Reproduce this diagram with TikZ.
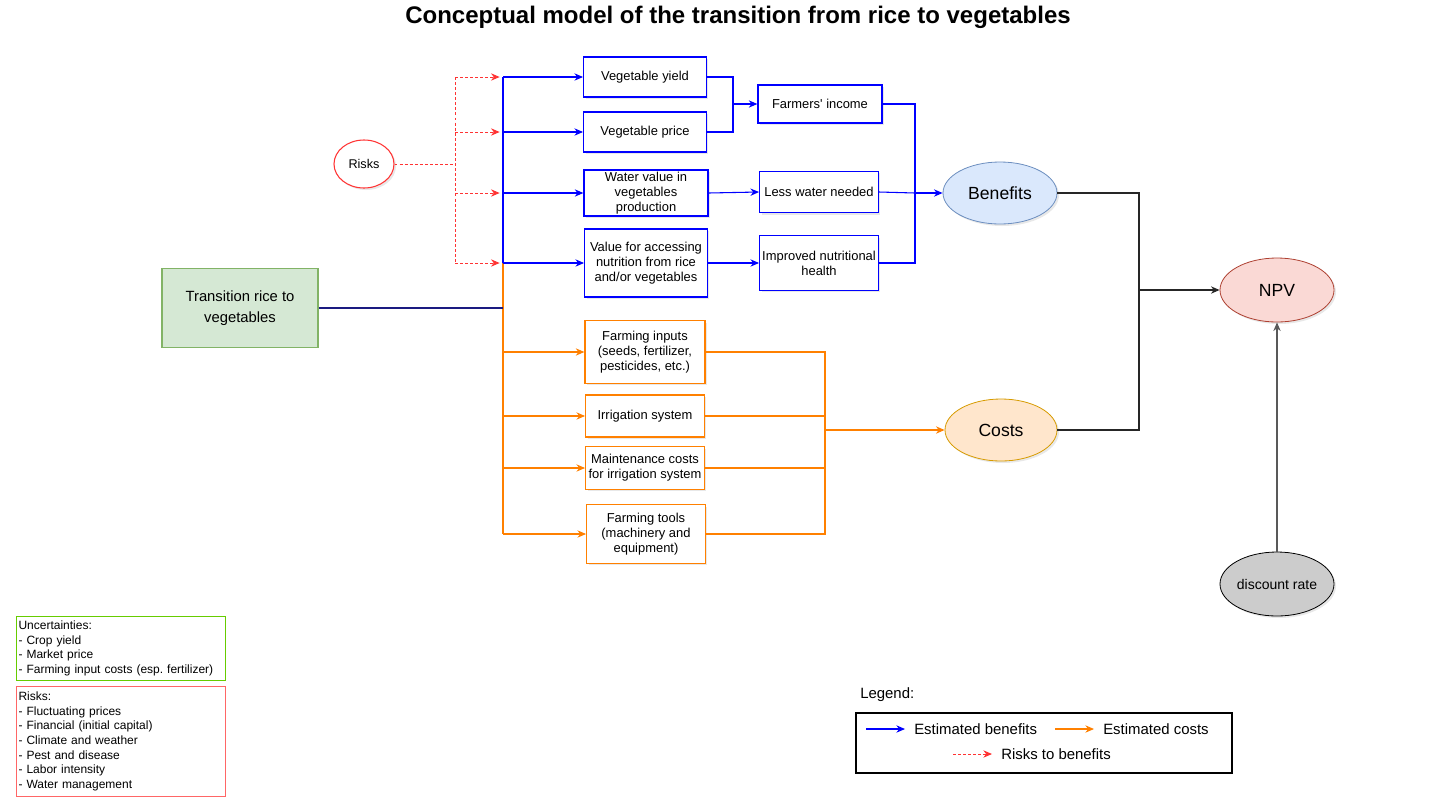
\documentclass[tikz,border=0pt]{standalone}
\usepackage{fontspec}
\setmainfont{Liberation Sans}
\usepackage{tikz}
\usetikzlibrary{shapes.geometric,arrows.meta,shadows}
\frenchspacing
\definecolor{cblue}{HTML}{0000FF}
\definecolor{corange}{HTML}{FF8000}
\definecolor{cred}{HTML}{FF3333}
\definecolor{cnavy}{HTML}{1A1A80}
\tikzstyle{shdw} = [drop shadow={shadow xshift=1.5pt, shadow yshift=-1.5pt, opacity=0.18}]
\tikzstyle{bluebox} = [draw=cblue, fill=white, line width=0.9pt, rectangle, align=center,
    inner sep=1pt, font=\fontsize{9.7}{11.4}\selectfont, shdw]
\tikzstyle{orangebox} = [bluebox, draw=corange]
\tikzstyle{bigoval} = [ellipse, line width=0.6pt, inner sep=0pt, font=\fontsize{13.2}{15}\selectfont, shdw]
\tikzstyle{notebox} = [rectangle, line width=0.8pt, anchor=north west, align=left,
    inner xsep=1.5pt, inner ysep=0pt, text width=154pt, font=\fontsize{9}{11}\selectfont]
\tikzstyle{legendtext} = [anchor=west, inner sep=0pt, font=\fontsize{11.2}{13}\selectfont]
\tikzstyle{titletext} = [font=\fontsize{18}{21}\selectfont\bfseries]
\tikzstyle{bline} = [draw=cblue, line width=0.8pt]
\tikzstyle{barrow} = [bline, -{Stealth[length=6.5pt, width=5.5pt]}]
\tikzstyle{oline} = [draw=corange, line width=0.8pt]
\tikzstyle{oarrow} = [oline, -{Stealth[length=6.5pt, width=5.5pt]}]
\tikzstyle{rline} = [draw=cred, line width=0.7pt, dash pattern=on 2.2pt off 1.6pt]
\tikzstyle{rarrow} = [rline, -{Stealth[length=6.5pt, width=5.5pt]}]
\tikzstyle{kline} = [draw=black!85, line width=0.8pt]
\tikzstyle{karrow} = [kline, -{Stealth[length=6.5pt, width=5.5pt]}]
\begin{document}
\begin{tikzpicture}[x=0.75pt, y=-0.75pt]
                \useasboundingbox (0,0) rectangle (1453,797);
                \node [titletext] (title) at (738,17) {Conceptual model of the transition from rice to vegetables};

                \node [rectangle, draw={rgb,255:red,130;green,179;blue,102}, fill={rgb,255:red,213;green,232;blue,212},
                    line width=0.8pt, minimum width=117pt, minimum height=59pt, align=center,
                    font=\fontsize{11.1}{15.5}\selectfont] (trans) at (240,308) {Transition rice to\\vegetables};
                \node [ellipse, draw=cred, fill=white, line width=0.8pt, minimum width=45pt, minimum height=36pt,
                    inner sep=0pt, font=\fontsize{9.5}{11}\selectfont, shdw] (risks) at (364,164) {Risks};

                \node [bluebox, minimum width=92pt, minimum height=30pt] (yield) at (645,77) {Vegetable yield};
                \node [bluebox, minimum width=92pt, minimum height=30pt] (price) at (645,132) {Vegetable price};
                \node [bluebox, minimum width=93pt, minimum height=34.5pt] (water) at (646,193) {Water value in\\vegetables\\production};
                \node [bluebox, minimum width=92pt, minimum height=51pt] (access) at (646,263) {Value for accessing\\nutrition from rice\\and/or vegetables};
                \node [bluebox, minimum width=93pt, minimum height=28.5pt] (income) at (820,104) {Farmers\textquotesingle{} income};
                \node [bluebox, minimum width=89pt, minimum height=31pt] (less) at (819,192) {Less water needed};
                \node [bluebox, minimum width=89pt, minimum height=41pt] (health) at (819,263) {Improved nutritional\\health};

                \node [orangebox, minimum width=90pt, minimum height=47pt] (inputs) at (645,352) {Farming inputs\\(seeds, fertilizer,\\pesticides, etc.)};
                \node [orangebox, minimum width=89pt, minimum height=31.5pt] (irrig) at (645,416) {Irrigation system};
                \node [orangebox, minimum width=89pt, minimum height=32pt] (maint) at (645,468) {Maintenance costs\\for irrigation system};
                \node [orangebox, minimum width=89pt, minimum height=44pt] (tools) at (646,534) {Farming tools\\(machinery and\\equipment)};

                \node [bigoval, draw={rgb,255:red,108;green,142;blue,191}, fill={rgb,255:red,218;green,232;blue,252},
                    minimum width=85.5pt, minimum height=46.5pt] (benefits) at (1000,193) {Benefits};
                \node [bigoval, draw={rgb,255:red,215;green,155;blue,0}, fill={rgb,255:red,255;green,230;blue,204},
                    minimum width=84pt, minimum height=46.5pt] (costs) at (1001,430) {Costs};
                \node [bigoval, draw={rgb,255:red,174;green,65;blue,50}, fill={rgb,255:red,250;green,217;blue,213},
                    minimum width=85.5pt, minimum height=48pt] (npv) at (1277,290) {NPV};
                \node [bigoval, draw=black, fill=black!20, minimum width=85.5pt, minimum height=48pt,
                    font=\fontsize{10.5}{12}\selectfont] (discount) at (1277,584) {discount rate};

                \coordinate (tj) at (503,308);
                \coordinate (rj) at (455,164);
                \coordinate (ym) at (733,104);
                \coordinate (bm) at (915,193);
                \coordinate (cm) at (825,430);
                \coordinate (nm) at (1139,290);

                \draw [bline] (yield.west -| tj) -- (tj);
                \draw [oline] (access.west -| tj) -- (tools.west -| tj);
                \draw [draw=cnavy, line width=1.1pt] (trans.east) -- (tj);
                \foreach \n in {yield,price,water,access}
                    \draw [barrow] (\n.west -| tj) -- (\n.west);
                \foreach \n in {inputs,irrig,maint,tools}
                    \draw [oarrow] (\n.west -| tj) -- (\n.west);

                \draw [rline] (risks.east) -- (rj);
                \draw [rline] (yield.west -| rj) -- (access.west -| rj);
                \foreach \n in {yield,price,water,access}
                    \draw [rarrow] (\n.west -| rj) -- ([xshift=-2.5pt]\n.west -| tj);

                \draw [bline] (yield.east) -| (ym);
                \draw [bline] (price.east) -| (ym);
                \draw [barrow] (ym) -- (income.west);
                \draw [barrow] (water.east) -- (less.west);
                \draw [barrow] (access.east) -- (health.west);
                \draw [bline] (income.east) -| (bm);
                \draw [bline] (health.east) -| (bm);
                \draw [bline] (less.east) -- (bm);
                \draw [barrow] (bm) -- (benefits.west);

                \foreach \n in {inputs,irrig,maint,tools}
                    \draw [oline] (\n.east) -| (cm);
                \draw [oarrow] (cm) -- (costs.west);

                \draw [kline] (benefits.east) -| (nm);
                \draw [kline] (costs.east) -| (nm);
                \draw [karrow] (nm) -- (npv.west);
                \draw [karrow, draw=black!65] (discount.north) -- (npv.south);

                \node [notebox, draw={rgb,255:red,102;green,204;blue,0}, minimum height=48pt] (unc) at (16,616)
                    {Uncertainties:\\- Crop yield\\- Market price\\- Farming input costs (esp. fertilizer)};
                \node [notebox, draw={rgb,255:red,255;green,102;blue,102}, minimum height=82.5pt] (risklist) at (16,686)
                    {Risks:\\- Fluctuating prices\\- Financial (initial capital)\\- Climate and weather\\- Pest and disease\\- Labor intensity\\- Water management};

                \node [legendtext] (legendtitle) at (860,695) {Legend:};
                \node [rectangle, draw=black, line width=0.8pt, minimum width=282pt, minimum height=45pt] (legend) at (1044,743) {};
                \coordinate (lb1) at (866,729);
                \coordinate (lb2) at (905,729);
                \coordinate (lo1) at (1055,729);
                \coordinate (lo2) at (1094,729);
                \coordinate (lr1) at (953,754);
                \coordinate (lr2) at (992,754);
                \draw [barrow] (lb1) -- (lb2);
                \draw [oarrow] (lo1) -- (lo2);
                \draw [rarrow] (lr1) -- (lr2);
                \node [legendtext] (lbtext) at (914,729) {Estimated benefits};
                \node [legendtext] (lotext) at (1103,729) {Estimated costs};
                \node [legendtext] (lrtext) at (1001,754) {Risks to benefits};
            \end{tikzpicture}
\end{document}
